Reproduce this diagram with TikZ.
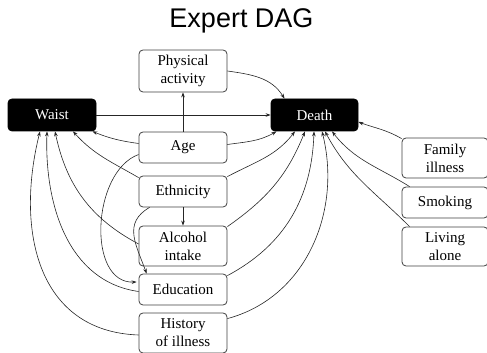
\documentclass[tikz,border=0pt]{standalone}
\usepackage{fontspec}
\setmainfont{Liberation Serif}
\newfontfamily\titlefont{Liberation Sans}
\usetikzlibrary{arrows.meta}
\begin{document}
\begin{tikzpicture}[x=1pt,y=1pt,
  var/.style={draw=black!75, line width=0.8pt, rounded corners=4pt, fill=white,
    minimum width=88pt, align=center, inner sep=0pt,
    font=\fontsize{15}{18}\selectfont},
  keyvar/.style={var, fill=black, draw=black, text=white},
  edge/.style={-{Stealth[length=5pt,width=3.6pt]}, line width=0.6pt, black!85}]
\useasboundingbox (0,0) rectangle (487,353);

% title
\node[anchor=base, font=\titlefont\fontsize{27}{30}\selectfont] (title) at (241.5,325) {Expert DAG};

% exposure and outcome
\node[keyvar, minimum height=32pt] (waist) at (52,238) {Waist};
\node[keyvar, minimum height=32pt, minimum width=87pt] (death) at (314.5,238) {Death};

% central column of covariates
\node[var, minimum height=42pt] (pa)   at (183,282)   {Physical\\activity};
\node[var, minimum height=31pt] (age)  at (183,205.5) {Age};
\node[var, minimum height=31pt] (eth)  at (183,161.5) {Ethnicity};
\node[var, minimum height=40pt] (alc)  at (183,107)   {Alcohol\\intake};
\node[var, minimum height=31pt] (edu)  at (183,63.5)  {Education};
\node[var, minimum height=40pt] (hist) at (183,20)    {History\\of illness};

% outcome-only causes
\node[var, minimum height=40pt, minimum width=86pt] (fam)  at (445,195)   {Family\\illness};
\node[var, minimum height=31pt, minimum width=86pt] (smok) at (445,150.5) {Smoking};
\node[var, minimum height=39pt, minimum width=86pt] (liv)  at (445,106.5) {Living\\alone};

% straight edges
\draw[edge] (waist.east) -- (death.west);
\draw[edge] (age.north) -- (pa.south);
\draw[edge] (eth.south) -- (alc.north);

% into Death
\draw[edge] (pa.east) to[out=-8,in=122] ([xshift=-30pt]death.north);
\draw[edge] ([yshift=3pt]age.east) to[out=8,in=-150] ([xshift=-38pt]death.south);
\draw[edge] ([yshift=-1pt]eth.north east) to[out=28,in=-128] ([xshift=-19.5pt]death.south);
\draw[edge] ([yshift=-1pt]alc.north east) to[out=35,in=-112] ([xshift=-9.5pt]death.south);
\draw[edge] ([yshift=-2pt]edu.north east) to[out=28,in=-92] ([xshift=-0.5pt]death.south);
\draw[edge] ([yshift=-6pt]hist.north east) to[out=15,in=-76] ([xshift=7.5pt]death.south);
\draw[edge] ([yshift=-1pt]fam.north west) to[out=150,in=-20] ([yshift=-7pt]death.east);
\draw[edge] ([xshift=8pt]smok.north west) to[out=148,in=-52] ([xshift=17.5pt]death.south);
\draw[edge] ([xshift=8pt]liv.north west) to[out=135,in=-62] ([xshift=10.5pt]death.south);

% into Waist
\draw[edge] ([yshift=4pt]age.west) to[out=172,in=-22] ([xshift=-4pt]waist.south east);
\draw[edge] ([yshift=-2pt]eth.north west) to[out=150,in=-48] ([xshift=21pt]waist.south);
\draw[edge] ([yshift=2pt]alc.west) to[out=152,in=-78] ([xshift=3pt]waist.south);
\draw[edge] ([yshift=-2pt]edu.west) to[out=172,in=-92] ([xshift=-5pt]waist.south);
\draw[edge] ([yshift=-2pt]hist.west) to[out=178,in=-104,looseness=1.15] ([xshift=-12pt]waist.south);

% into Education
\draw[edge] ([yshift=-7pt]age.west) to[out=200,in=182] ([yshift=7.5pt,xshift=-2pt]edu.west);
\draw[edge] ([xshift=11pt]eth.south west) to[out=210,in=110,looseness=1.2] ([xshift=8pt]edu.north west);
\end{tikzpicture}
\end{document}
